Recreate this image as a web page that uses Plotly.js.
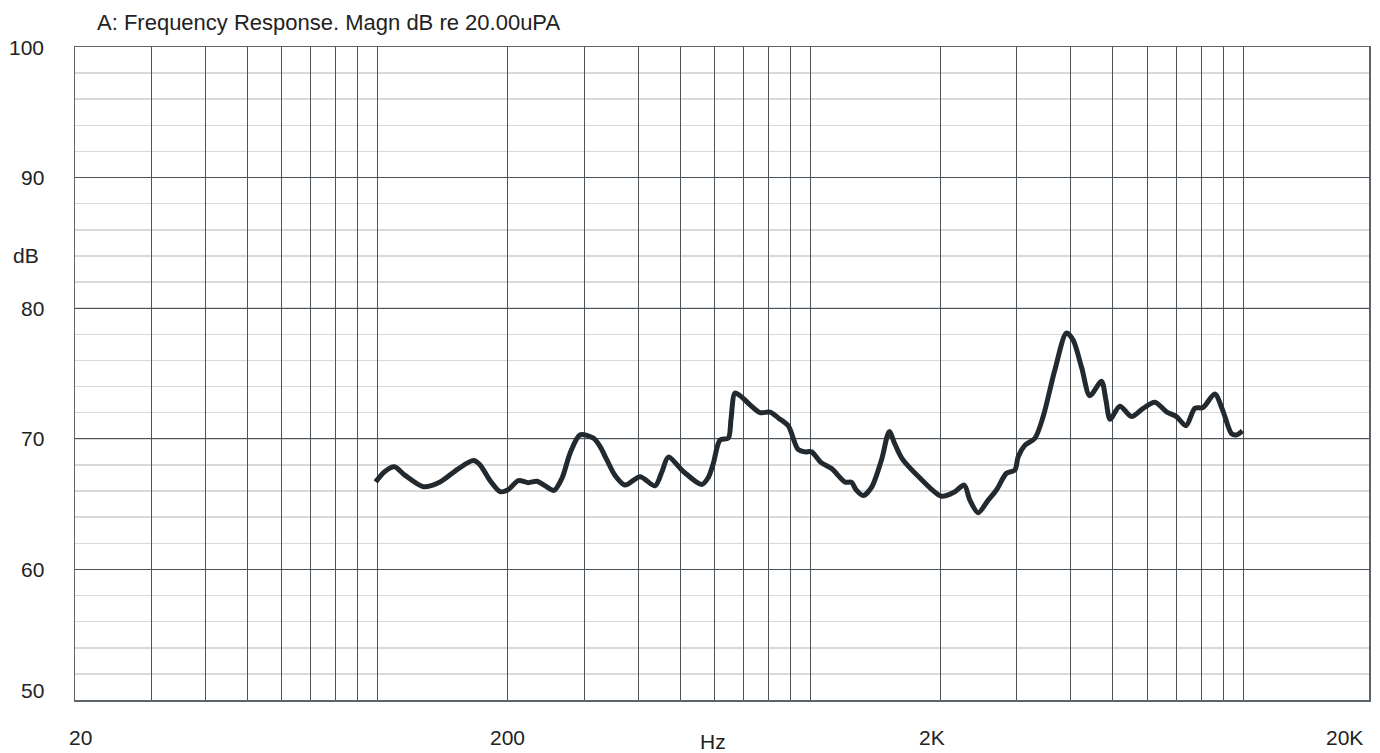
<!DOCTYPE html>
<html>
<head>
<meta charset="utf-8">
<script src="https://cdn.plot.ly/plotly-3.0.1.min.js"></script>
<style>html,body{margin:0;padding:0;background:#fff;}#chart{width:1380px;height:753px;}</style>
</head>
<body>
<div id="chart"></div>
<script>
// Frequency (Hz) and magnitude (dB re 20 uPa)
const freqHz = [99,104,109.4,115.8,127.7,139.5,153.6,166.6,172.6,182,192,200.3,211.6,223.2,233.4,243.9,255.8,267,278.6,293.8,315.4,326.9,338.6,353.8,373.3,404.2,437.8,454.4,469.8,508.9,561,580.2,596.8,618.4,646.4,655.8,670,694.2,725.6,765.2,807,843.4,889.2,936.4,972,1007,1058,1120,1202,1246,1275,1325,1386,1461,1522,1568,1628,1792,2011,2158,2268,2338,2443,2576,2694,2840,2969,3022,3131,3303,3452,3673,3908,4048,4240,4424,4708,4818,4929,5190,5523,5876,6253,6653,7015,7383,7733,8083,8601,8990,9400,9668,9966];
const magnDb = [66.7,67.5,67.86,67.2,66.33,66.7,67.7,68.33,68.0,66.8,65.95,66.1,66.8,66.64,66.75,66.4,66.05,67.0,68.9,70.3,70.05,69.4,68.4,67.2,66.46,67.1,66.4,67.5,68.6,67.5,66.5,67.0,68.1,69.9,70.05,71.5,73.5,73.2,72.6,72.0,72.05,71.6,71.0,69.2,69.0,69.0,68.2,67.72,66.7,66.66,66.1,65.65,66.3,68.4,70.55,69.6,68.5,67.0,65.6,65.95,66.46,65.3,64.34,65.3,66.1,67.36,67.6,68.63,69.5,70.04,71.7,75.27,78.1,77.56,75.4,73.3,74.4,73.0,71.5,72.5,71.7,72.33,72.8,72.07,71.7,71.0,72.33,72.4,73.43,72.1,70.4,70.3,70.6];

// Axis grid / labels
const xGridHz = [30,40,50,60,70,80,90,100,200,300,400,500,600,700,800,900,1000,2000,3000,4000,5000,6000,7000,8000,9000,10000];
const xLabelHz = [20,200,2000,20000];
const xLabelText = ['20','200','2K','20K'];
const yTicks = [50,60,70,80,90,100];
const yTickText = ['50','60','70','80','90','100'];

const X_MIN = 20, X_MAX = 19540;
const FONT = 'Liberation Sans, Arial, sans-serif';
const TXT = {family: FONT, size: 21, color: '#222222'};

const xLabelShift = [5,0,-9,-29];
const yLabelShift = [10,0,0,0,0,0];

const trace = {
  x: freqHz, y: magnDb, type: 'scatter', mode: 'lines',
  line: {color: '#222a30', width: 5, shape: 'spline', smoothing: 0.8},
  hoverinfo: 'x+y'
};

const lx0 = Math.log10(X_MIN), lx1 = Math.log10(X_MAX);
const annotations = xLabelHz.map((f, i) => ({
  x: (Math.log10(f) - lx0) / (lx1 - lx0), xref: 'paper', y: -0.057, yref: 'paper',
  text: xLabelText[i], showarrow: false, xanchor: 'center', yanchor: 'middle',
  xshift: xLabelShift[i], font: TXT
}));
yTicks.forEach((v, i) => annotations.push({
  x: 0, xref: 'paper', y: v, yref: 'y', text: yTickText[i], showarrow: false,
  xanchor: 'right', yanchor: 'middle', xshift: -29, yshift: yLabelShift[i], font: TXT
}));
annotations.push({x: 0.493, xref: 'paper', y: -0.063, yref: 'paper', text: 'Hz', showarrow: false,
  xanchor: 'center', yanchor: 'middle', font: TXT});
annotations.push({x: -0.038, xref: 'paper', y: 0.68, yref: 'paper', text: 'dB', showarrow: false,
  xanchor: 'center', yanchor: 'middle', font: TXT});

const layout = {
  width: 1380, height: 753,
  margin: {l: 75, r: 11, t: 47, b: 53},
  paper_bgcolor: '#ffffff', plot_bgcolor: '#ffffff',
  showlegend: false,
  title: {text: 'A: Frequency Response. Magn dB re 20.00uPA', x: 97/1380, xref: 'container', xanchor: 'left',
    y: 1 - 22/753, yref: 'container', yanchor: 'middle', font: {family: FONT, size: 22, color: '#222222'}},
  xaxis: {
    type: 'log', range: [lx0, lx1],
    tickmode: 'array', tickvals: xGridHz, showticklabels: false, ticks: '',
    showgrid: true, gridcolor: '#4c535a', gridwidth: 1,
    showline: true, linecolor: '#5c636a', linewidth: 1.5, mirror: true, zeroline: false
  },
  yaxis: {
    range: [50, 100], tickmode: 'array', tickvals: yTicks, ticks: '', showticklabels: false,
    showgrid: true, gridcolor: '#4c535a', gridwidth: 1,
    minor: {dtick: 2, showgrid: true, gridcolor: '#d9d9d9', gridwidth: 1.5, ticks: ''},
    showline: true, linecolor: '#5c636a', linewidth: 1.5, mirror: true, zeroline: false
  },
  annotations: annotations
};

Plotly.newPlot('chart', [trace], layout, {displayModeBar: false, staticPlot: true});
</script>
</body>
</html>
